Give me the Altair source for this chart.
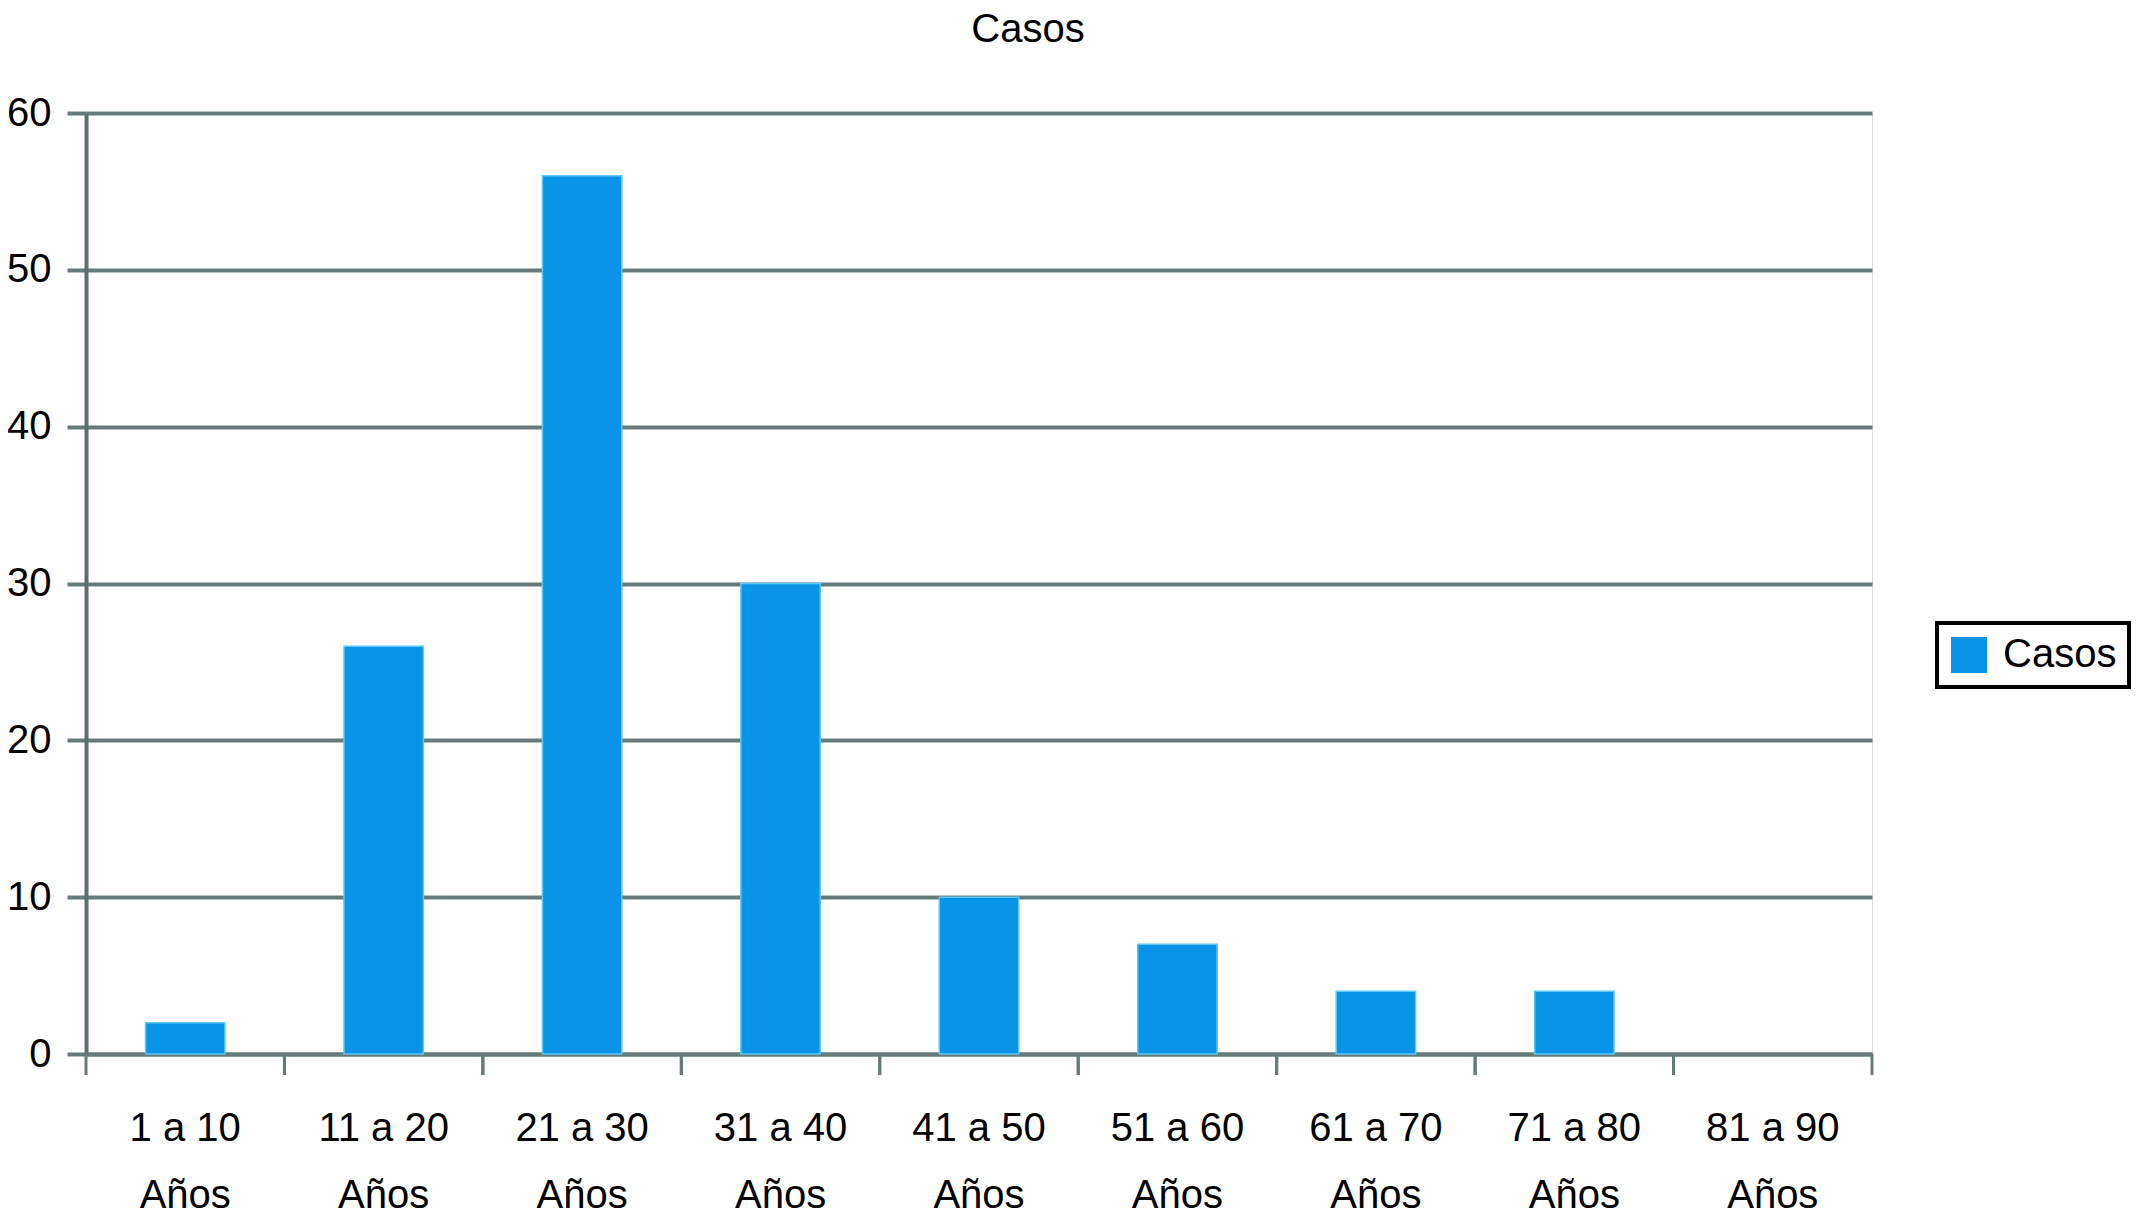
import altair as alt
import pandas as pd

# ---- data ----
grupos = ["1 a 10", "11 a 20", "21 a 30", "31 a 40", "41 a 50",
          "51 a 60", "61 a 70", "71 a 80", "81 a 90"]
casos = [2, 26, 56, 30, 10, 7, 4, 4, 0]
serie = "Casos"
unidad = "Años"
y_ticks = [0, 10, 20, 30, 40, 50, 60]

df = pd.DataFrame({"grupo": grupos, "casos": casos, "serie": [serie] * len(grupos)})
df_title = pd.DataFrame({"titulo": [serie]})

BLUE = "#0a94e8"
GRID = "#667a7a"
FONT = "Liberation Sans"

W, H = 1786, 941

x_axis = alt.Axis(
    title=None, labelAngle=0, ticks=False,
    labelExpr=f"[datum.label, '{unidad}']",
    labelFontSize=40, labelColor="black", labelFont=FONT,
    labelLineHeight=67, labelPadding=54, labelBaseline="top",
    labelOverlap=False,
    domain=True, domainColor=GRID, domainWidth=4, grid=False,
)

y_axis = alt.Axis(
    title=None, values=y_ticks, grid=True, gridColor=GRID, gridWidth=4,
    tickColor=GRID, tickWidth=4, tickSize=19,
    domainColor="#5b6f6f", domainWidth=4,
    labelFontSize=40, labelPadding=16, labelColor="black", labelFont=FONT,
)

bars = alt.Chart(df).mark_bar(
    width=alt.RelativeBandSize(0.4), stroke="#5cc8f5", strokeWidth=1.5
).encode(
    x=alt.X("grupo:N", sort=grupos, scale=alt.Scale(paddingInner=0, paddingOuter=0), axis=x_axis),
    y=alt.Y("casos:Q", scale=alt.Scale(domain=[0, 60]), axis=y_axis),
    strokeOpacity=alt.condition("datum.casos > 0", alt.value(1), alt.value(0)),
    color=alt.Color(
        "serie:N",
        scale=alt.Scale(range=[BLUE]),
        legend=alt.Legend(
            title=None, orient="none", legendX=1851, legendY=510,
            symbolType="square", symbolSize=1300, symbolStrokeWidth=0,
            labelFontSize=40, labelFont=FONT, labelColor="black",
            padding=12, symbolOffset=0, labelOffset=14,
        ),
    ),
)

ticks_left = alt.Chart(df).mark_rule(color=GRID, strokeWidth=3).encode(
    x=alt.X("grupo:N", sort=grupos, bandPosition=0, title=None),
    y=alt.value(H),
    y2=alt.value(H + 21),
)
ticks_right = alt.Chart(df).mark_rule(color=GRID, strokeWidth=3).encode(
    x=alt.X("grupo:N", sort=grupos, bandPosition=1, title=None),
    y=alt.value(H),
    y2=alt.value(H + 21),
)

# chart title drawn as a text mark above the plot area
title_mark = alt.Chart(df_title).mark_text(
    fontSize=40, font=FONT, color="black", align="center", baseline="alphabetic"
).encode(
    text="titulo:N",
    x=alt.value(942),
    y=alt.value(-71),
)

chart = alt.layer(bars, ticks_left, ticks_right, title_mark).properties(
    width=W, height=H,
    autosize="none",
    padding={"left": 78, "top": 105, "right": 259, "bottom": 160},
).configure_view(stroke=None).configure(font=FONT).configure_legend(
    strokeColor="black", strokeWidth=4
)

chart.save("out.html", embed_options={"renderer": "svg", "actions": False})
